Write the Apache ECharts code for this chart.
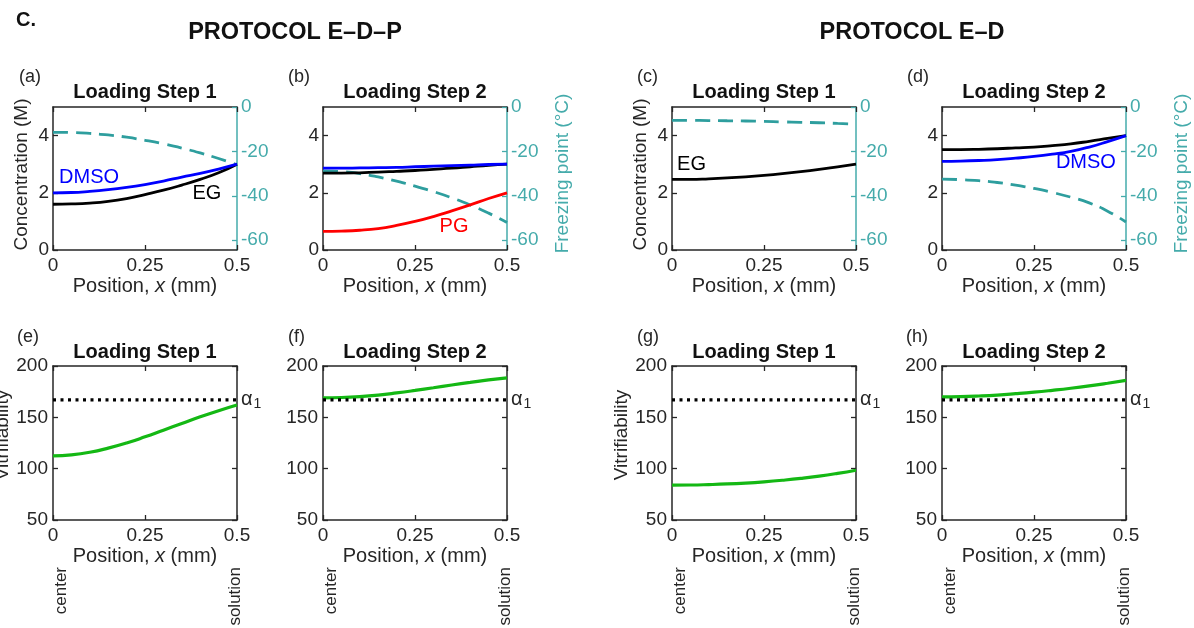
<!DOCTYPE html>
<html>
<head>
<meta charset="utf-8">
<script src="https://cdn.jsdelivr.net/npm/echarts@6/dist/echarts.min.js"></script>
<style>
  html, body { margin: 0; padding: 0; background: #fff; }
  #chart { width: 1194px; height: 628px; }
</style>
</head>
<body>
<div id="chart"></div>
<script>
// ---------- DATA ----------
const positions = [0, 0.05, 0.1, 0.15, 0.2, 0.25, 0.3, 0.35, 0.4, 0.45, 0.5];

// Protocol E-D-P, loading step 1
const aDMSO = [2.00, 2.01, 2.05, 2.11, 2.19, 2.29, 2.41, 2.55, 2.68, 2.83, 3.00];
const aEG   = [1.60, 1.61, 1.64, 1.70, 1.80, 1.94, 2.09, 2.27, 2.47, 2.70, 3.00];
const aFP   = [-11.4, -11.5, -11.9, -12.6, -13.6, -15.0, -16.6, -18.5, -20.7, -23.2, -26.0];
// Protocol E-D-P, loading step 2
const bDMSO = [2.86, 2.86, 2.87, 2.88, 2.89, 2.91, 2.93, 2.95, 2.97, 2.99, 3.00];
const bEG   = [2.69, 2.69, 2.70, 2.72, 2.75, 2.78, 2.82, 2.86, 2.91, 2.96, 3.00];
const bPG   = [0.65, 0.66, 0.69, 0.75, 0.86, 1.00, 1.17, 1.37, 1.58, 1.80, 2.00];
const bFP   = [-28.8, -29.1, -30.0, -31.5, -33.4, -35.6, -38.1, -40.9, -44.1, -47.8, -52.0];
// Protocol E-D, loading step 1
const cEG   = [2.47, 2.47, 2.49, 2.52, 2.56, 2.61, 2.67, 2.74, 2.82, 2.91, 3.00];
const cFP   = [-6.0, -6.0, -6.1, -6.2, -6.3, -6.5, -6.7, -6.9, -7.1, -7.4, -7.7];
// Protocol E-D, loading step 2
const dEG   = [3.51, 3.51, 3.52, 3.54, 3.57, 3.60, 3.65, 3.71, 3.80, 3.90, 4.00];
const dDMSO = [3.10, 3.11, 3.13, 3.16, 3.21, 3.27, 3.35, 3.45, 3.60, 3.79, 4.00];
const dFP   = [-32.5, -32.7, -33.2, -34.0, -35.2, -36.7, -38.5, -40.6, -43.2, -46.9, -51.8];
// Vitrifiability
const eVit = [112.5, 113.5, 116, 120, 125, 131, 137.5, 144, 150.5, 156.5, 162];
const fVit = [169, 169.3, 170.2, 171.7, 173.8, 176.2, 178.8, 181.5, 184, 186.5, 188.5];
const gVit = [84, 84.1, 84.5, 85.1, 86, 87.2, 88.7, 90.5, 92.7, 95.4, 98.5];
const hVit = [170, 170.2, 170.8, 171.7, 173, 174.5, 176.3, 178.3, 180.6, 183.2, 186];
const alpha1 = 167;
const alphaX = [0, 0.5];

const concTicks = [0, 2, 4];
const fpTicks = [0, -20, -40, -60];
const panelLetters = ['(a)', '(b)', '(c)', '(d)', '(e)', '(f)', '(g)', '(h)'];
const panelTitles = ['Loading Step 1', 'Loading Step 2', 'Loading Step 1', 'Loading Step 2',
                     'Loading Step 1', 'Loading Step 2', 'Loading Step 1', 'Loading Step 2'];

// ---------- STYLE ----------
const FONT = '"Liberation Sans", Arial, Helvetica, sans-serif';
const INK = '#262626';
const TEAL = '#2e9e9e';
const TEAL_AX = '#45abab';
const GREEN = '#14b814';

const grids = [
  { left: 53,  top: 107, width: 184, height: 143 },
  { left: 323, top: 107, width: 184, height: 143 },
  { left: 672, top: 107, width: 184, height: 143 },
  { left: 942, top: 107, width: 184, height: 143 },
  { left: 53,  top: 366, width: 184, height: 154 },
  { left: 323, top: 366, width: 184, height: 154 },
  { left: 672, top: 366, width: 184, height: 154 },
  { left: 942, top: 366, width: 184, height: 154 }
].map(g => Object.assign(g, { containLabel: false, outerBoundsMode: 'none' }));
const letterPos = [[19, 68], [288, 68], [637, 68], [907, 68], [17, 328], [288, 328], [637, 328], [906, 328]];

const zip = (xs, ys) => xs.map((x, i) => [x, ys[i]]);

const xAxes = [], yAxes = [], series = [], titles = [];

function lineStyleAxis(color) { return { show: true, lineStyle: { color: color, width: 1.5 } }; }
function tickIn(color) { return { show: true, inside: true, length: 5, lineStyle: { color: color, width: 1.3 } }; }

grids.forEach((g, i) => {
  xAxes.push({
    gridIndex: i, type: 'value', min: 0, max: 0.5, interval: 0.25, position: 'bottom',
    axisLine: Object.assign(lineStyleAxis(INK), { onZero: false }),
    axisTick: tickIn(INK),
    splitLine: { show: false },
    axisLabel: { color: INK, fontSize: 19, fontFamily: FONT, margin: 6 },
    name: 'Position, {i|x} (mm)', nameLocation: 'middle', nameGap: 26,
    nameTextStyle: { color: INK, fontSize: 20, fontFamily: FONT,
      rich: { i: { fontStyle: 'italic', fontSize: 20, color: INK, fontFamily: FONT } } }
  });
  xAxes.push({
    gridIndex: i, type: 'value', min: 0, max: 0.5, interval: 0.25, position: 'top',
    axisLine: Object.assign(lineStyleAxis(INK), { onZero: false }),
    axisTick: tickIn(INK), axisLabel: { show: false }, splitLine: { show: false }
  });
  titles.push({ text: panelTitles[i], left: g.left + g.width / 2, top: g.top - (i < 4 ? 25 : 24),
    textAlign: 'center', padding: 0,
    textStyle: { fontSize: 20, fontWeight: 'bold', color: '#111', fontFamily: FONT } });
  titles.push({ text: panelLetters[i], left: letterPos[i][0], top: letterPos[i][1], padding: 0,
    textStyle: { fontSize: 18, fontWeight: 'normal', color: INK, fontFamily: FONT } });
});

for (let i = 0; i < 4; i++) {
  yAxes.push({
    gridIndex: i, type: 'value', min: 0, max: 5, position: 'left',
    axisLine: Object.assign(lineStyleAxis(INK), { onZero: false }),
    axisTick: Object.assign(tickIn(INK), { customValues: concTicks }),
    axisLabel: { color: INK, fontSize: 19, fontFamily: FONT, margin: 4, customValues: concTicks },
    splitLine: { show: false },
    name: (i === 0 || i === 2) ? 'Concentration (M)' : '',
    nameLocation: 'middle', nameGap: 22, nameRotate: 90,
    nameTextStyle: { color: INK, fontSize: 19, fontFamily: FONT, padding: [0, 0, 0, 8] }
  });
  yAxes.push({
    gridIndex: i, type: 'value', min: -64.4, max: 0, position: 'right',
    axisLine: Object.assign(lineStyleAxis(TEAL_AX), { onZero: false }),
    axisTick: Object.assign(tickIn(TEAL_AX), { customValues: fpTicks }),
    axisLabel: { color: TEAL_AX, fontSize: 19, fontFamily: FONT, margin: 4, customValues: fpTicks },
    splitLine: { show: false },
    name: (i === 1 || i === 3) ? 'Freezing point (°C)' : '',
    nameLocation: 'middle', nameGap: 46, nameRotate: 90,
    nameTextStyle: { color: TEAL_AX, fontSize: 19, fontFamily: FONT, padding: [0, 0, 0, 10] }
  });
}
for (let i = 4; i < 8; i++) {
  yAxes.push({
    gridIndex: i, type: 'value', min: 50, max: 200, interval: 50, position: 'left',
    axisLine: Object.assign(lineStyleAxis(INK), { onZero: false }),
    axisTick: tickIn(INK),
    axisLabel: { color: INK, fontSize: 19, fontFamily: FONT, margin: 5 },
    splitLine: { show: false },
    name: (i === 4 || i === 6) ? 'Vitrifiability' : '',
    nameLocation: 'middle', nameGap: 40, nameRotate: 90,
    nameTextStyle: { color: INK, fontSize: 19, fontFamily: FONT, padding: [0, 0, 0, 16] }
  });
  yAxes.push({
    gridIndex: i, type: 'value', min: 50, max: 200, interval: 50, position: 'right',
    axisLine: Object.assign(lineStyleAxis(INK), { onZero: false }),
    axisTick: tickIn(INK), axisLabel: { show: false }, splitLine: { show: false }
  });
}

function line(panel, axisSide, data, color, width, type, extra) {
  return Object.assign({
    type: 'line', xAxisIndex: panel * 2, yAxisIndex: panel * 2 + axisSide,
    data: zip(positions, data), smooth: true, showSymbol: false, symbol: 'none',
    lineStyle: { color: color, width: width, type: type || 'solid' },
    itemStyle: { color: color }, silent: true, animation: false
  }, extra || {});
}
function textMark(txt, color, coord) {
  return { symbol: 'circle', symbolSize: 0, silent: true, animation: false,
    label: { show: true, position: 'inside', formatter: txt, color: color, fontSize: 20, fontFamily: FONT },
    data: [{ coord: coord }] };
}
const DASH = [15, 8];

series.push(line(0, 1, aFP, TEAL, 2.8, DASH));
series.push(line(0, 0, aEG, '#000', 2.8, 'solid', { markPoint: textMark('EG', '#000', [0.418, 1.96]) }));
series.push(line(0, 0, aDMSO, '#0000ff', 2.8, 'solid', { markPoint: textMark('DMSO', '#0000ff', [0.098, 2.55]) }));
series.push(line(1, 1, bFP, TEAL, 2.8, DASH));
series.push(line(1, 0, bEG, '#000', 2.8));
series.push(line(1, 0, bDMSO, '#0000ff', 2.8));
series.push(line(1, 0, bPG, '#ff0000', 2.8, 'solid', { markPoint: textMark('PG', '#ff0000', [0.356, 0.81]) }));
series.push(line(2, 1, cFP, TEAL, 2.8, DASH));
series.push(line(2, 0, cEG, '#000', 2.8, 'solid', { markPoint: textMark('EG', '#000', [0.053, 3.0]) }));
series.push(line(3, 1, dFP, TEAL, 2.8, DASH));
series.push(line(3, 0, dEG, '#000', 2.8));
series.push(line(3, 0, dDMSO, '#0000ff', 2.8, 'solid', { markPoint: textMark('DMSO', '#0000ff', [0.391, 3.07]) }));

const vitData = [eVit, fVit, gVit, hVit];
vitData.forEach((v, k) => {
  const p = 4 + k;
  series.push(line(p, 0, v, GREEN, 3.2));
  series.push({
    type: 'line', xAxisIndex: p * 2, yAxisIndex: p * 2,
    data: alphaX.map(x => [x, alpha1]), showSymbol: false, symbol: 'none', silent: true, animation: false,
    lineStyle: { color: '#000', width: 3.2, type: [3, 4.5] }, z: 3,
    endLabel: { show: true, distance: 4, formatter: '{a|α}{s|1}', color: INK,
      rich: { a: { fontSize: 20, fontFamily: FONT, color: INK },
              s: { fontSize: 14, fontFamily: FONT, color: INK, padding: [9, 0, 0, 1] } } }
  });
});

titles.push({ text: 'C.', left: 16, top: 10, padding: 0,
  textStyle: { fontSize: 20, fontWeight: 'bold', color: '#111', fontFamily: FONT } });
titles.push({ text: 'PROTOCOL E\u2013D\u2013P', left: 295, top: 21, textAlign: 'center', padding: 0,
  textStyle: { fontSize: 23.5, fontWeight: 'bold', color: '#111', fontFamily: FONT } });
titles.push({ text: 'PROTOCOL E\u2013D', left: 912, top: 21, textAlign: 'center', padding: 0,
  textStyle: { fontSize: 23.5, fontWeight: 'bold', color: '#111', fontFamily: FONT } });

const chart = echarts.init(document.getElementById('chart'), null, { renderer: 'canvas' });
chart.setOption({
  backgroundColor: '#fff',
  animation: false,
  title: titles,
  grid: grids,
  xAxis: xAxes,
  yAxis: yAxes,
  series: series
});

const extraText = [];
for (let p = 4; p < 8; p++) {
  const left = chart.convertToPixel({ gridIndex: p }, [0, 50]);
  const right = chart.convertToPixel({ gridIndex: p }, [0.5, 50]);
  extraText.push({ type: 'text', x: left[0] + 8, y: left[1] + 47, rotation: Math.PI / 2,
    style: { text: 'center', fill: INK, font: '17px ' + FONT, align: 'right', verticalAlign: 'middle' } });
  extraText.push({ type: 'text', x: right[0] - 2, y: right[1] + 47, rotation: Math.PI / 2,
    style: { text: 'solution', fill: INK, font: '17px ' + FONT, align: 'right', verticalAlign: 'middle' } });
}
chart.setOption({ graphic: extraText });
</script>
</body>
</html>
